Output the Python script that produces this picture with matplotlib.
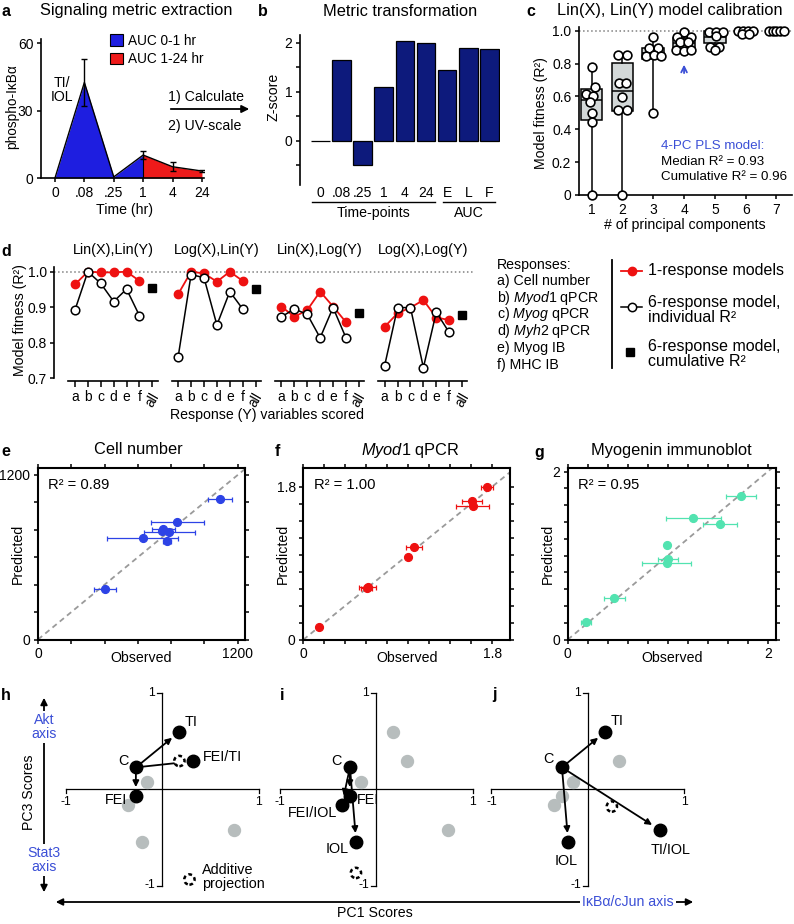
"""
Signaling metrics -> PLS model figure (panels a-j).
"""
import numpy as np
import matplotlib
matplotlib.use("Agg")
import matplotlib.pyplot as plt
from matplotlib.patches import Patch
from matplotlib.lines import Line2D

W, H = 794, 924

# ── a: phospho-IkBa time course ─────────────────────────────────────────────
TIME_LABELS = ["0", ".08", ".25", "1", "4", "24"]
IKB_MEAN    = [0.0, 42.5, 0.5, 10.2, 5.0, 3.1]
IKB_ERR     = [0.0, 10.5, 0.0, 1.7, 2.0, 0.5]

# ── b: z-scored metrics ─────────────────────────────────────────────────────
Z_LABELS = ["0", ".08", ".25", "1", "4", "24", "E", "L", "F"]
Z_SCORES = [0.0, 1.65, -0.50, 1.11, 2.04, 1.99, 1.44, 1.90, 1.87]

# ── c: model fitness vs number of PCs ───────────────────────────────────────
N_PC    = [1, 2, 3, 4, 5, 6, 7]
BOX_Q1  = [0.455, 0.510, 0.830, 0.890, 0.925, 0.985, 1.000]
BOX_MED = [0.580, 0.635, 0.865, 0.925, 0.960, 0.995, 1.000]
BOX_Q3  = [0.645, 0.805, 0.895, 0.958, 1.000, 1.000, 1.000]
BOX_LO  = [0.000, 0.000, 0.500, 0.875, 0.885, 0.975, 1.000]
BOX_HI  = [0.780, 0.855, 0.965, 0.995, 1.000, 1.000, 1.000]
PC_DX = [
    [0.0, 0.12, -0.17, 0.05, -0.06, 0.0, 0.0, 0.0],
    [-0.15, 0.15, -0.12, 0.12, 0.0, -0.15, 0.15, 0.0],
    [0.0, -0.15, 0.15, -0.25, 0.02, 0.25, 0.0],
    [0.0, -0.22, 0.22, -0.12, 0.12, -0.25, 0.0, 0.22],
    [-0.2, 0.05, 0.25, 0.05, -0.15, 0.12, 0.0],
    [-0.25, -0.08, 0.08, 0.25, -0.12, 0.12],
    [-0.25, -0.12, 0.0, 0.12, 0.25],
]
PC_R2 = [
    [0.78, 0.655, 0.615, 0.60, 0.565, 0.50, 0.445, 0.0],
    [0.855, 0.855, 0.68, 0.68, 0.595, 0.515, 0.515, 0.0],
    [0.963, 0.893, 0.893, 0.845, 0.855, 0.845, 0.50],
    [0.995, 0.963, 0.963, 0.93, 0.93, 0.882, 0.876, 0.882],
    [0.995, 0.995, 0.995, 0.965, 0.90, 0.90, 0.885],
    [0.997, 0.997, 0.997, 0.997, 0.98, 0.98],
    [1.0, 1.0, 1.0, 1.0, 1.0],
]

# ── d: fitness per response, four transforms ────────────────────────────────
RESP_LETTERS = ["a", "b", "c", "d", "e", "f", "all"]
D_TITLES = ["Lin(X),Lin(Y)", "Log(X),Lin(Y)", "Lin(X),Log(Y)", "Log(X),Log(Y)"]
D_SINGLE = [
    [0.964, 1.000, 0.998, 0.998, 1.000, 0.974],
    [0.937, 1.000, 0.995, 0.972, 1.000, 0.974],
    [0.902, 0.873, 0.892, 0.944, 0.902, 0.858],
    [0.845, 0.883, 0.899, 0.920, 0.871, 0.864],
]
D_MULTI = [
    [0.892, 1.000, 0.967, 0.916, 0.951, 0.876],
    [0.761, 0.992, 0.983, 0.850, 0.944, 0.895],
    [0.873, 0.895, 0.880, 0.814, 0.899, 0.814],
    [0.736, 0.899, 0.899, 0.730, 0.886, 0.829],
]
D_CUMUL = [0.955, 0.951, 0.883, 0.878]
RESPONSES = ["a) Cell number", r"b) $\mathit{Myod1}$ qPCR", r"c) $\mathit{Myog}$ qPCR",
             r"d) $\mathit{Myh2}$ qPCR", "e) Myog IB", "f) MHC IB"]

# ── e-g: observed vs predicted ──────────────────────────────────────────────
E_OBS  = [1094, 838, 754, 748, 790, 630, 774, 404]
E_PRED = [1024, 854, 805, 790, 785, 737, 717, 371]
E_XERR = [74, 160, 70, 0, 155, 213, 24, 67]

F_OBS  = [1.747, 1.604, 1.613, 1.054, 0.994, 0.613, 0.603, 0.152]
F_PRED = [1.793, 1.632, 1.569, 1.090, 0.977, 0.620, 0.612, 0.146]
F_XERR = [0.057, 0.095, 0.155, 0.078, 0.0, 0.084, 0.05, 0.0]

G_OBS  = [1.733, 1.256, 1.523, 0.996, 1.006, 0.990, 0.466, 0.183]
G_PRED = [1.710, 1.446, 1.381, 1.130, 0.956, 0.916, 0.494, 0.211]
G_XERR = [0.153, 0.278, 0.167, 0.0, 0.100, 0.245, 0.105, 0.05]

# ── h-j: PC scores ──────────────────────────────────────────────────────────
CONDITIONS = ["C", "TI", "FEI", "IOL", "FEI/TI", "FEI/IOL", "TI/IOL", "other"]
PC1 = [-0.270, 0.177, -0.272, -0.205, 0.318, -0.353, 0.743, -0.151]
PC3 = [0.224, 0.590, -0.074, -0.550, 0.287, -0.163, -0.423, 0.075]
PANEL_SETS = [["FEI", "TI", "FEI/TI"], ["FEI", "IOL", "FEI/IOL"], ["TI", "IOL", "TI/IOL"]]
ADD_PC1 = [0.18, -0.208, 0.247]
ADD_PC3 = [0.29, -0.87, -0.182]

# ── style ───────────────────────────────────────────────────────────────────
AUC_EARLY = "#1e1ee0"
AUC_LATE  = "#ee1a1a"
NAVY      = "#0d1a7c"
BOXGREY   = "#d3d8d8"
RED       = "#ee1111"
E_BLUE    = "#2d43e6"
G_GREEN   = "#52e3b0"
GREY_PT   = "#b7bdbd"
TXT_BLUE  = "#3b4fd6"

plt.rcParams["font.family"] = ["Liberation Sans", "DejaVu Sans"]
plt.rcParams["mathtext.fontset"] = "custom"
plt.rcParams["mathtext.rm"] = "Liberation Sans"
plt.rcParams["mathtext.it"] = "Liberation Sans:italic"
plt.rcParams["font.size"] = 10.2
plt.rcParams["axes.linewidth"] = 1.2
plt.rcParams["xtick.labelsize"] = 10
plt.rcParams["ytick.labelsize"] = 10
for k in ("xtick", "ytick"):
    plt.rcParams[f"{k}.major.size"] = 3
    plt.rcParams[f"{k}.major.width"] = 1.1
    plt.rcParams[f"{k}.major.pad"] = 2.5

fig = plt.figure(figsize=(W / 100, H / 100), dpi=100)


def px_axes(x0, y0, x1, y1):
    return fig.add_axes([x0 / W, 1 - y1 / H, (x1 - x0) / W, (y1 - y0) / H])


def ftext(x, y, s, **kw):
    kw.setdefault("ha", "center")
    kw.setdefault("va", "center")
    return fig.text(x / W, 1 - y / H, s, **kw)


def place_label(ax, axis, x, y):
    ax_x, ax_y = ax.transAxes.inverted().transform((x, H - y))
    a = ax.xaxis if axis == "x" else ax.yaxis
    a.label.set_va("center")
    a.label.set_ha("center")
    a.set_label_coords(ax_x, ax_y)


def only_left_bottom(ax):
    ax.spines["top"].set_visible(False)
    ax.spines["right"].set_visible(False)


# ── panel letters ───────────────────────────────────────────────────────────
for letter, (lx, ly) in zip("abcdefghij",
                            [(6, 11), (263, 11), (531, 12), (6, 252), (6, 452),
                             (277, 452), (539, 452), (6, 695), (282, 695), (494, 695)]):
    ftext(lx, ly, letter, fontsize=11.5, fontweight="bold")

# ── a ───────────────────────────────────────────────────────────────────────
ax = px_axes(41, 39, 204, 178)
xa = np.arange(len(TIME_LABELS))
ikb = np.array(IKB_MEAN)
err = np.array(IKB_ERR)
ax.fill_between(xa[:4], ikb[:4], color=AUC_EARLY, lw=0)
ax.fill_between(xa[3:], ikb[3:], color=AUC_LATE, lw=0)
ax.vlines(xa[3], 0, ikb[3], color="k", lw=0.8)
ax.plot(xa, ikb, color="k", lw=1.0)
has = err > 0
ax.errorbar(xa[has], ikb[has], yerr=err[has], fmt="none", ecolor="k",
            elinewidth=1, capsize=2.5, capthick=1)
ax.set_xlim(-0.476, 5.07)
ax.set_ylim(0, 61.8)
ax.set_xticks(xa, TIME_LABELS)
ax.set_yticks([0, 30, 60])
only_left_bottom(ax)
ax.set_ylabel("phospho-IκBα", fontsize=9.8)
ax.set_xlabel("Time (hr)")
place_label(ax, "y", 12, 107)
place_label(ax, "x", 125, 210)
ax.legend(handles=[Patch(fc=AUC_EARLY, ec="k", lw=0.8, label="AUC 0-1 hr"),
                   Patch(fc=AUC_LATE, ec="k", lw=0.8, label="AUC 1-24 hr")],
          loc="upper left", bbox_to_anchor=(110 / W, 1 - 34 / H),
          bbox_transform=fig.transFigure, frameon=False, fontsize=9.8,
          handlelength=0.95, handleheight=0.95, handletextpad=0.4,
          labelspacing=0.3, borderaxespad=0, borderpad=0)
ftext(136, 11, "Signaling metric extraction", fontsize=11.8)
ftext(62, 90, "TI/\nIOL", linespacing=1.05)
fig.add_artist(matplotlib.patches.FancyArrowPatch(
    (168 / W, 1 - 109 / H), (252 / W, 1 - 109 / H), transform=fig.transFigure,
    arrowstyle="-|>", mutation_scale=11, color="k", lw=1.3))
ftext(168, 97, "1) Calculate", ha="left")
ftext(168, 126, "2) UV-scale", ha="left")

# ── b ───────────────────────────────────────────────────────────────────────
ax = px_axes(300, 35, 500, 185)
xb = np.arange(len(Z_LABELS))
ax.bar(xb, Z_SCORES, width=0.88, color=NAVY, ec="k", lw=0.9)
ax.set_xlim(-0.96, 8.5)
ax.set_ylim(-0.898, 2.163)
for s in ("top", "right", "bottom"):
    ax.spines[s].set_visible(False)
ax.set_yticks([-0.5, 0, 0.5, 1, 1.5, 2], ["", "0", "", "1", "", "2"])
ax.set_xticks(xb, Z_LABELS)
ax.tick_params(axis="x", length=0, pad=1)
ax.set_ylabel("Z-score")
place_label(ax, "y", 273, 97)
ax.plot([-0.39, 5.42], [-1.245, -1.245], color="k", lw=1.0, clip_on=False)
ax.plot([5.8, 8.26], [-1.245, -1.245], color="k", lw=1.0, clip_on=False)
ax.text(2.5, -1.47, "Time-points", ha="center", va="center")
ax.text(7.03, -1.47, "AUC", ha="center", va="center")
ftext(400, 11, "Metric transformation", fontsize=11.8)

# ── c ───────────────────────────────────────────────────────────────────────
ax = px_axes(579, 27, 792, 195)
stats = [dict(med=m, q1=a, q3=b, whislo=lo, whishi=hi)
         for m, a, b, lo, hi in zip(BOX_MED, BOX_Q1, BOX_Q3, BOX_LO, BOX_HI)]
ax.axhline(1.0, color="grey", ls=":", lw=1.1, zorder=0)
ax.bxp(stats, positions=N_PC, widths=0.7, patch_artist=True, showfliers=False,
       showcaps=False,
       boxprops=dict(facecolor=BOXGREY, edgecolor="k", lw=1.1),
       medianprops=dict(color="k", lw=1.1),
       whiskerprops=dict(color="k", lw=1.1))
for k, dx, r2 in zip(N_PC, PC_DX, PC_R2):
    ax.plot(k + np.array(dx), r2, "o", mfc="white", mec="k", ms=6.3, mew=1.2,
            clip_on=False, zorder=4)
ax.set_xlim(0.588, 7.505)
ax.set_ylim(0, 1.0225)
ax.set_xticks(N_PC)
ax.set_yticks([0, 0.2, 0.4, 0.6, 0.8, 1.0], ["0", "0.2", "0.4", "0.6", "0.8", "1.0"])
only_left_bottom(ax)
ax.set_ylabel("Model fitness (R²)")
ax.set_xlabel("# of principal components")
place_label(ax, "y", 541, 113)
place_label(ax, "x", 685, 225)
ax.annotate("", xy=(4, 0.81), xytext=(4, 0.725),
            arrowprops=dict(arrowstyle="->", color=TXT_BLUE, lw=1.3))
ftext(670, 11, "Lin(X), Lin(Y) model calibration", fontsize=11.8)
ftext(661, 146, "4-PC PLS model:", ha="left", color=TXT_BLUE, fontsize=9.6)
ftext(661, 162, "Median R² = 0.93", ha="left", fontsize=9.6)
ftext(661, 177, "Cumulative R² = 0.96", ha="left", fontsize=9.6)

# ── d ───────────────────────────────────────────────────────────────────────
ax = px_axes(54.3, 266.7, 475, 381)
ax.axhline(1.0, color="grey", ls=":", lw=1.1, zorder=0)
xticks, xlabels = [], []
for g in range(4):
    xs = g * 8 + np.arange(6)
    ax.plot(xs, D_SINGLE[g], "-o", color=RED, ms=6, lw=1.3, zorder=2)
    ax.plot(xs, D_MULTI[g], "-o", color="k", mfc="white", mec="k", ms=6.2,
            mew=1.1, lw=1.1, zorder=3)
    ax.plot(g * 8 + 6, D_CUMUL[g], "s", color="k", ms=5.5, zorder=3)
    ax.plot([g * 8 - 0.5, g * 8 + 6.4], [0.6924, 0.6924], color="k", lw=1.2,
            clip_on=False)
    ax.text(g * 8 + 3, 1.061, D_TITLES[g], ha="center", va="center", fontsize=10.4)
    xticks += list(g * 8 + np.arange(7))
    xlabels += RESP_LETTERS
ax.set_xlim(-1.6, 31.0)
ax.set_ylim(0.6924, 1.014)
ax.spines["left"].set_bounds(0.7, 1.014)
for s in ("top", "right", "bottom"):
    ax.spines[s].set_visible(False)
ax.set_yticks([0.7, 0.8, 0.9, 1.0], ["0.7", "0.8", "0.9", "1.0"])
ax.set_xticks(xticks, xlabels)
ax.tick_params(axis="x", length=4.2, pad=2.5)
for lab, txt in zip(ax.get_xticklabels(), xlabels):
    if txt == "all":
        lab.set_rotation(60)
ax.set_ylabel("Model fitness (R²)")
ax.set_xlabel("Response (Y) variables scored")
place_label(ax, "y", 20, 320)
place_label(ax, "x", 267, 415)

# d legend
ftext(497, 265, "Responses:", ha="left")
for i, r in enumerate(RESPONSES):
    ftext(497, 281 + 16.7 * i, r, ha="left")
fig.add_artist(Line2D([611.7 / W] * 2, [1 - 260 / H, 1 - 368 / H], color="k", lw=1.3))
fig.add_artist(Line2D([621 / W, 642 / W], [1 - 271 / H] * 2, color=RED, lw=1.3))
fig.add_artist(Line2D([631.5 / W], [1 - 271 / H], marker="o", color=RED, ms=6))
fig.add_artist(Line2D([621 / W, 642 / W], [1 - 306.7 / H] * 2, color="k", lw=1.1))
fig.add_artist(Line2D([632 / W], [1 - 306.7 / H], marker="o", mfc="white", mec="k",
                      mew=1.1, ms=6))
fig.add_artist(Line2D([630 / W], [1 - 352.3 / H], marker="s", color="k", ms=5.5))
ftext(648, 271, "1-response models", ha="left", fontsize=11.5)
ftext(648, 309.5, "6-response model,\nindividual R²", ha="left", fontsize=11.5,
      linespacing=1.0)
ftext(648, 354, "6-response model,\ncumulative R²", ha="left", fontsize=11.5,
      linespacing=1.0)


# ── e-g ─────────────────────────────────────────────────────────────────────
def scatter_panel(box, obs, pred, xerr, color, lim, step, ticklab, r2, title):
    ax = px_axes(*box)
    ax.plot([0, 10 * lim[0]], [0, 10 * lim[0]], color="#9a9a9a", ls=(0, (3, 2.2)),
            lw=1.3, zorder=1)
    ax.errorbar(obs, pred, xerr=xerr, fmt="o", color=color, ms=5.6, ecolor=color,
                elinewidth=0.9, capsize=1.8, capthick=0.9, zorder=3)
    ax.set_xlim(0, lim[0])
    ax.set_ylim(0, lim[1])
    ticks = np.arange(0, ticklab + step / 2, step)
    ax.set_xticks(ticks, ["0"] + [""] * (len(ticks) - 2) + [title[2]])
    ax.set_yticks(ticks, ["0"] + [""] * (len(ticks) - 2) + [title[2]])
    ax.tick_params(top=True, right=True, direction="out", length=3, width=1.1)
    for s in ax.spines.values():
        s.set_linewidth(1.5)
    ax.text(0.05, 0.9, r2, transform=ax.transAxes, ha="left", va="center",
            fontsize=10.6)
    ax.set_xlabel("Observed")
    ax.set_ylabel("Predicted")
    x0, y0, x1, y1 = box
    place_label(ax, "x", (x0 + x1) / 2, 658)
    place_label(ax, "y", x0 - 20, (y0 + y1) / 2)
    ftext(title[1], 450, title[0], fontsize=11.8)
    return ax


scatter_panel((38, 468, 245, 639.5), E_OBS, E_PRED, E_XERR, E_BLUE, (1244, 1251),
              200, 1200, "R² = 0.89", ("Cell number", 138, "1200"))
scatter_panel((303.3, 468.3, 510, 639.7), F_OBS, F_PRED, F_XERR, RED, (1.97, 2.016),
              0.2, 1.8, "R² = 1.00", (r"$\mathit{Myod1}$ qPCR", 410, "1.8"))
scatter_panel((567.7, 468.3, 775.7, 639.7), G_OBS, G_PRED, G_XERR, G_GREEN,
              (2.08, 2.04), 0.2, 2.0, "R² = 0.95", ("Myogenin immunoblot", 671, "2"))

# ── h-j ─────────────────────────────────────────────────────────────────────
SCALE = 96.5
CENTERS = [(162, 789), (376, 789), (588, 789)]
# label placement: (dx px, dy px, ha)
LABEL_POS = [
    {"C": (-12.7, 6, "center"), "TI": (12.4, 10, "center"),
     "FEI/TI": (10.6, 4, "left"), "FEI": (-9, -4, "right")},
    {"C": (-13.3, 6.6, "center"), "FEI": (7.3, -4, "left"),
     "FEI/IOL": (-5, -8, "right"), "IOL": (-8, -7, "right")},
    {"C": (-13.4, 8.3, "center"), "TI": (11.7, 10.7, "center"),
     "IOL": (-1.6, -19.4, "center"), "TI/IOL": (10.7, -20, "center")},
]
pc1 = dict(zip(CONDITIONS, PC1))
pc3 = dict(zip(CONDITIONS, PC3))
for p, (cx, cy) in enumerate(CENTERS):
    ax = px_axes(cx - 1.25 * SCALE, cy - 1.12 * SCALE, cx + 1.25 * SCALE, cy + 1.12 * SCALE)
    ax.set_xlim(-1.25, 1.25)
    ax.set_ylim(-1.12, 1.12)
    ax.axis("off")
    ax.plot([-1, 1], [0, 0], color="k", lw=0.9)
    ax.plot([0, 0], [-1, 1], color="k", lw=0.9)
    for v in (-1, 1):
        ax.plot([-0.05, 0], [v, v], color="k", lw=0.9)
        ax.plot([v, v], [0, -0.04], color="k", lw=0.9)
        ax.text(-0.07, v, str(v), ha="right", va="center", fontsize=8.8)
        ax.text(v, -0.13, str(v), ha="center", va="center", fontsize=8.8)
    shown = ["C"] + PANEL_SETS[p]
    grey = [c for c in CONDITIONS if c not in shown]
    ax.plot([pc1[c] for c in grey], [pc3[c] for c in grey], "o", color=GREY_PT,
            ms=8.6, zorder=2)
    for c in PANEL_SETS[p]:
        ax.annotate("", xy=(pc1[c], pc3[c]), xytext=(pc1["C"], pc3["C"]),
                    arrowprops=dict(arrowstyle="-|>", color="k", lw=1.3,
                                    shrinkA=4, shrinkB=6.5, mutation_scale=9),
                    zorder=3)
    ax.plot([pc1[c] for c in shown], [pc3[c] for c in shown], "o", color="k",
            ms=9, zorder=4)
    ax.scatter([ADD_PC1[p]], [ADD_PC3[p]], s=55, facecolors="white", edgecolors="k",
               linewidths=1.8, linestyles=(0, (1.5, 1.2)), zorder=5)
    for c, (dx, dy, ha) in LABEL_POS[p].items():
        ax.annotate(c, (pc1[c], pc3[c]), xytext=(dx, dy), textcoords="offset pixels",
                    ha=ha, va="center", fontsize=10.4, zorder=6)
    if p == 0:
        ax.scatter([0.284], [-0.938], s=55, facecolors="white", edgecolors="k",
                   linewidths=1.8, linestyles=(0, (1.5, 1.2)), zorder=5)
        ax.text(0.41, -0.917, "Additive\nprojection", ha="left", va="center",
                fontsize=10.4, linespacing=1.0)

# axis arrows for the PC score panels
fig.add_artist(matplotlib.patches.FancyArrowPatch(
    (44 / W, 1 - 895 / H), (44 / W, 1 - 695 / H), transform=fig.transFigure,
    arrowstyle="<|-|>", mutation_scale=10, color="k", lw=1.3))
fig.add_artist(matplotlib.patches.FancyArrowPatch(
    (53 / W, 1 - 902 / H), (696 / W, 1 - 902 / H), transform=fig.transFigure,
    arrowstyle="<|-|>", mutation_scale=10, color="k", lw=1.3))
white = dict(facecolor="white", edgecolor="none", pad=1.5)
ftext(44, 727, "Akt\naxis", color=TXT_BLUE, linespacing=1.0, bbox=white)
ftext(44, 860, "Stat3\naxis", color=TXT_BLUE, linespacing=1.0, bbox=white)
ftext(29, 792, "PC3 Scores", rotation=90)
ftext(628, 902, "IκBα/cJun axis", color=TXT_BLUE, bbox=white)
ftext(375, 913, "PC1 Scores")

fig.savefig("out.png", dpi=100)
